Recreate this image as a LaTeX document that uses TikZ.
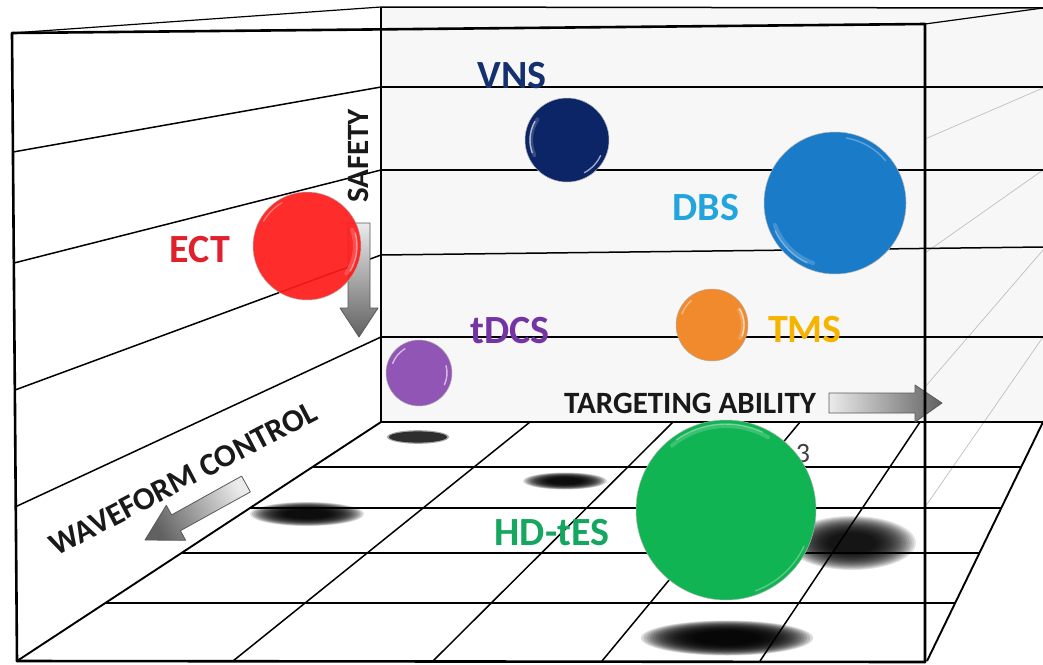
\documentclass[tikz,border=0pt]{standalone}
\usepackage{fontspec}
\setmainfont{Carlito}

\definecolor{wallgray}{HTML}{F7F7F7}
\definecolor{vnsball}{HTML}{0B2566}
\definecolor{vnstext}{HTML}{14306E}
\definecolor{dbsball}{HTML}{1A7BC9}
\definecolor{dbstext}{HTML}{22A5DE}
\definecolor{ectball}{HTML}{FF1B1B}
\definecolor{ecttext}{HTML}{E0202A}
\definecolor{tmsball}{HTML}{F08A2C}
\definecolor{tmstext}{HTML}{F5B400}
\definecolor{tdcsball}{HTML}{9055B5}
\definecolor{tdcstext}{HTML}{7434A4}
\definecolor{hdball}{HTML}{10B452}
\definecolor{hdtext}{HTML}{15A660}

% blurred shadow: stacked translucent ellipses
% [#1 layer opacity] {#2 centre} {#3 outer x radius} {#4 outer y radius}
\newcommand\floorshadow[4][0.13]{%
  \foreach \k in {0,...,19}{%
    \pgfmathsetmacro\shf{1-\k*0.033}%
    \fill[black, opacity=#1] (#2) ellipse [x radius=#3*\shf, y radius=#4*\shf];%
  }%
}

\begin{document}
\begin{tikzpicture}[x=1pt,y=1pt,
  frameline/.style={line width=2.6pt, line cap=round, line join=round},
  gridline/.style={line width=1.5pt},
  thinline/.style={line width=1.2pt},
  faintline/.style={line width=0.7pt, draw=black!25},
  ball/.style={circle, inner sep=0pt, minimum size=#1, draw=black!30, line width=0.5pt},
  gloss/.style={white, line width=1.4pt, line cap=round, opacity=0.6},
  glow/.style={white, line width=4pt, line cap=round, opacity=0.18},
  ballname/.style={font=\fontsize{40}{40}\selectfont\bfseries, inner sep=0pt, anchor=base},
  axisname/.style={font=\fontsize{31}{31}\selectfont\bfseries, inner sep=0pt, anchor=base, text=black!90},
  blockarrow/.style={draw=black!65, line width=0.8pt, line join=round}]

\useasboundingbox (0,0) rectangle (1043,-664);
\fill[white] (0,0) rectangle (1043,-664);

% box corners
\coordinate (ftl) at (12,-33);
\coordinate (ftr) at (925,-24);
\coordinate (fbr) at (925,-662);
\coordinate (fbl) at (17,-661);
\coordinate (btl) at (381,-7);
\coordinate (btr) at (1043,-8);
\coordinate (bbl) at (381,-422);
\coordinate (bbr) at (1043,-422);
\coordinate (rbf) at (927,-661);

% back wall
\fill[wallgray] (btl) -- (btr) -- (bbr) -- (bbl) -- cycle;

% right wall, seen through
\draw[faintline] (925,-139) -- (1043,-88);
\draw[faintline] (925,-253) -- (1043,-170);
\draw[faintline] (925,-387) -- (1043,-250);
\draw[faintline] (925,-507) -- (1043,-337);

% back wall rows
\draw[gridline] (381,-87) -- (1043,-87);
\draw[gridline] (381,-170) -- (1043,-170);
\draw[gridline] (381,-255) -- (1043,-247);
\draw[gridline] (381,-337) -- (1043,-337);

% left wall rows
\draw[gridline] (13,-152) -- (381,-87);
\draw[gridline] (14,-263) -- (381,-170);
\draw[gridline] (15,-390) -- (381,-255);
\draw[gridline] (15,-507) -- (381,-337);

% floor rows
\draw[gridline] (312.5,-467) -- (1021.2,-467);
\draw[gridline] (250,-508) -- (1001.3,-508);
\draw[gridline] (181.5,-553) -- (979.4,-553);
\draw[gridline] (105.3,-603) -- (955.2,-603);

% floor columns
\draw[gridline] (530,-422) -- (233,-661);
\draw[gridline] (673,-422) -- (433,-661);
\draw[gridline] (800,-422) -- (602,-661);
\draw[gridline] (920,-422) -- (760,-661);

% edges of the box
\draw[gridline, line width=1.9pt] (bbl) -- (fbl);
\draw[gridline, line width=1.9pt] (bbr) -- (rbf);
\draw[thinline] (ftl) -- (btl);
\draw[gridline] (btl) -- (btr);
\draw[thinline] (ftr) -- (btr);
\draw[thinline] (btl) -- (bbl);
\draw[frameline] (bbl) -- (bbr);

% shadows on the floor
\fill[black, opacity=0.35] (418,-437) ellipse [x radius=31, y radius=6.8];
\fill[black!82] (418,-437) ellipse [x radius=29, y radius=5.6];
\floorshadow{565,-481}{42}{8.5}
\floorshadow{307,-514}{57}{12}
\floorshadow[0.11]{852,-543}{64}{27}
\floorshadow[0.15]{727,-638}{86}{17.5}

% axis arrows
\shade[blockarrow, top color=black!8, bottom color=black!62]
  (348,-223) -- (370,-223) -- (370,-308) -- (378,-308) -- (359,-337)
  -- (340,-308) -- (348,-308) -- cycle;
\shade[blockarrow, left color=black!8, right color=black!62]
  (829,-393) -- (915,-393) -- (915,-385) -- (942,-403) -- (915,-422)
  -- (915,-413) -- (829,-413) -- cycle;
\shade[blockarrow, top color=black!8, bottom color=black!62, shading angle=-61]
  (250.4,-491.9) -- (180.4,-530.7) -- (185.7,-540.3) -- (145,-540)
  -- (166.3,-505.3) -- (171.6,-514.9) -- (241.6,-476.1) -- cycle;

% front frame
\draw[frameline] (fbl) -- (ftl) -- (ftr) -- (fbr);
\draw[frameline] (fbl) -- (fbr);

% axis names
\node[axisname, rotate=90] (safety) at (368,-156) {SAFETY};
\node[axisname] (targeting) at (690,-413) {TARGETING ABILITY};
\node[axisname, font=\fontsize{32}{32}\selectfont\bfseries, rotate=27.6] (waveform) at (188,-488) {WAVEFORM CONTROL};
\node[inner sep=0pt, anchor=base, font=\fontsize{28}{28}\selectfont, text=black!75] (three) at (803,-462) {3};

% technique names
\node[ballname, text=vnstext] (vnsname) at (512,-88) {VNS};
\node[ballname, text=dbstext] (dbsname) at (706,-220) {DBS};
\node[ballname, text=ecttext] (ectname) at (200,-262) {ECT};
\node[ballname, text=tmstext] (tmsname) at (805,-342) {TMS};
\node[ballname, text=tdcstext] (tdcsname) at (510,-343) {tDCS};
\node[ballname, text=hdtext] (hdname) at (552,-545) {HD-tES};

% spheres
\node[ball=84pt, fill=vnsball] (vns) at (567,-140) {};
\draw[glow] ([shift={(145:36)}]vns.center) arc[start angle=145, end angle=205, radius=36];
\draw[gloss] ([shift={(150:37)}]vns.center) arc[start angle=150, end angle=200, radius=37];
\draw[gloss] ([shift={(-62:37)}]vns.center) arc[start angle=-62, end angle=-25, radius=37];

\node[ball=142pt, fill=dbsball] (dbs) at (835,-203) {};
\draw[glow] ([shift={(200:64)}]dbs.center) arc[start angle=200, end angle=250, radius=64];
\draw[gloss, opacity=0.35] ([shift={(205:66)}]dbs.center) arc[start angle=205, end angle=245, radius=66];
\draw[gloss, opacity=0.3] ([shift={(40:66)}]dbs.center) arc[start angle=40, end angle=80, radius=66];

\node[ball=108pt, fill=ectball, fill opacity=0.92] (ect) at (307,-246) {};
\draw[glow] ([shift={(-35:48)}]ect.center) arc[start angle=-35, end angle=20, radius=48];
\draw[gloss, opacity=0.45] ([shift={(-30:50)}]ect.center) arc[start angle=-30, end angle=15, radius=50];
\draw[gloss, opacity=0.35] ([shift={(120:50)}]ect.center) arc[start angle=120, end angle=150, radius=50];

\node[ball=72pt, fill=tmsball] (tms) at (712,-325) {};
\draw[glow] ([shift={(-25:31)}]tms.center) arc[start angle=-25, end angle=30, radius=31];
\draw[gloss] ([shift={(-20:32)}]tms.center) arc[start angle=-20, end angle=30, radius=32];
\draw[gloss, opacity=0.4] ([shift={(130:32)}]tms.center) arc[start angle=130, end angle=160, radius=32];

\node[ball=66pt, fill=tdcsball] (tdcs) at (419,-373) {};
\draw[gloss] ([shift={(120:28)}]tdcs.center) arc[start angle=120, end angle=160, radius=28];
\draw[gloss] ([shift={(-25:28)}]tdcs.center) arc[start angle=-25, end angle=15, radius=28];

\node[ball=180pt, fill=hdball] (hd) at (726,-510) {};
\draw[glow] ([shift={(60:84)}]hd.center) arc[start angle=60, end angle=130, radius=84];
\draw[gloss, opacity=0.35] ([shift={(65:86)}]hd.center) arc[start angle=65, end angle=125, radius=86];
\draw[gloss, opacity=0.3] ([shift={(-70:86)}]hd.center) arc[start angle=-70, end angle=-25, radius=86];

\end{tikzpicture}
\end{document}
